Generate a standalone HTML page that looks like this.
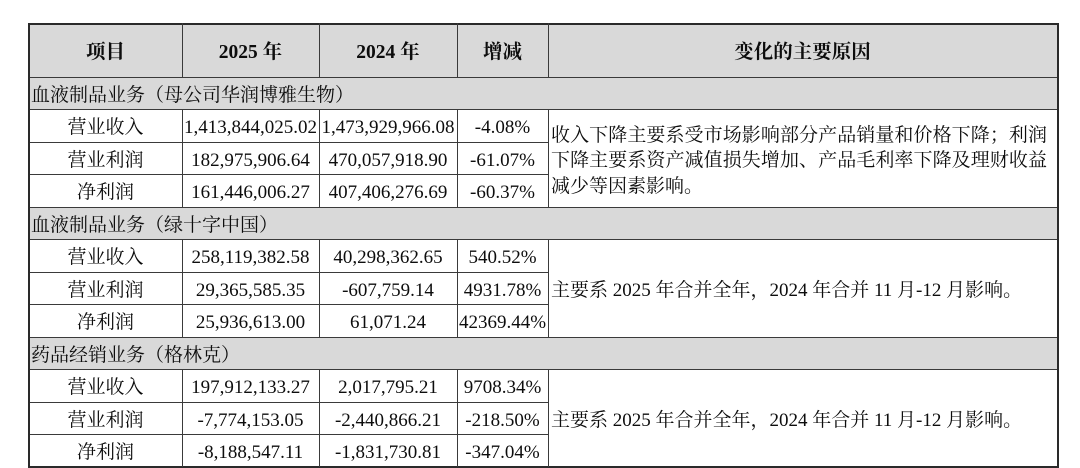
<!DOCTYPE html>
<html>
<head>
<meta charset="utf-8">
<style>
  html,body{margin:0;padding:0;background:#fff;}
  body{width:1080px;height:468px;position:relative;overflow:hidden;
       font-family:"Liberation Serif","Noto Serif CJK SC",serif;color:#0d0d0d;font-size:19px;}
  .bg{position:absolute;background:#d9d9d9;}
  .h{position:absolute;height:1px;background:#3a3a3a;}
  .v{position:absolute;width:1px;background:#3a3a3a;}
  .c{position:absolute;display:flex;align-items:center;justify-content:center;line-height:24px;white-space:nowrap;box-sizing:border-box;padding-top:4px;}
  .b{font-weight:bold;font-size:19.5px;}
  .s{position:absolute;left:31px;display:flex;align-items:center;line-height:24px;white-space:nowrap;box-sizing:border-box;padding-top:4px;}
  .r{position:absolute;left:551px;display:flex;align-items:center;box-sizing:border-box;padding-top:5px;}
  .r .blk{width:496px;line-height:25.5px;}
  .r .j{text-align:justify;text-align-last:justify;white-space:nowrap;}
</style>
</head>
<body>
<!-- gray backgrounds -->
<div class="bg" style="left:29px;top:23px;width:1028px;height:54px;"></div>
<div class="bg" style="left:29px;top:77px;width:1028px;height:32px;"></div>
<div class="bg" style="left:29px;top:207px;width:1028px;height:32px;"></div>
<div class="bg" style="left:29px;top:337px;width:1028px;height:32px;"></div>

<!-- full-width horizontal lines -->
<div class="h" style="left:29px;top:23px;width:1030px;height:2px;background:#2a2a2a;"></div>
<div class="h" style="left:29px;top:77px;width:1029px;"></div>
<div class="h" style="left:29px;top:109px;width:1029px;"></div>
<div class="h" style="left:29px;top:207px;width:1029px;"></div>
<div class="h" style="left:29px;top:239px;width:1029px;"></div>
<div class="h" style="left:29px;top:337px;width:1029px;"></div>
<div class="h" style="left:29px;top:369px;width:1029px;"></div>
<div class="h" style="left:29px;top:466px;width:1030px;height:2px;background:#2a2a2a;"></div>

<!-- partial horizontal lines -->
<div class="h" style="left:29px;top:142px;width:520px;"></div>
<div class="h" style="left:29px;top:174px;width:520px;"></div>
<div class="h" style="left:29px;top:272px;width:520px;"></div>
<div class="h" style="left:29px;top:304px;width:520px;"></div>
<div class="h" style="left:29px;top:402px;width:520px;"></div>
<div class="h" style="left:29px;top:434px;width:520px;"></div>

<!-- outer verticals -->
<div class="v" style="left:28px;top:23px;height:445px;width:2px;background:#2a2a2a;"></div>
<div class="v" style="left:1057px;top:23px;height:445px;width:2px;background:#2a2a2a;"></div>

<!-- inner verticals: header -->
<div class="v" style="left:182px;top:23px;height:54px;"></div>
<div class="v" style="left:319px;top:23px;height:54px;"></div>
<div class="v" style="left:457px;top:23px;height:54px;"></div>
<div class="v" style="left:548px;top:23px;height:54px;"></div>
<!-- group A -->
<div class="v" style="left:182px;top:109px;height:98px;"></div>
<div class="v" style="left:319px;top:109px;height:98px;"></div>
<div class="v" style="left:457px;top:109px;height:98px;"></div>
<div class="v" style="left:548px;top:109px;height:98px;"></div>
<!-- group B -->
<div class="v" style="left:182px;top:239px;height:98px;"></div>
<div class="v" style="left:319px;top:239px;height:98px;"></div>
<div class="v" style="left:457px;top:239px;height:98px;"></div>
<div class="v" style="left:548px;top:239px;height:98px;"></div>
<!-- group C -->
<div class="v" style="left:182px;top:369px;height:98px;"></div>
<div class="v" style="left:319px;top:369px;height:98px;"></div>
<div class="v" style="left:457px;top:369px;height:98px;"></div>
<div class="v" style="left:548px;top:369px;height:98px;"></div>

<!-- header text -->
<div class="c b" style="left:29px;top:24px;width:153px;height:53px;">项目</div>
<div class="c b" style="left:182px;top:24px;width:137px;height:53px;">2025 年</div>
<div class="c b" style="left:319px;top:24px;width:138px;height:53px;">2024 年</div>
<div class="c b" style="left:457px;top:24px;width:91px;height:53px;">增减</div>
<div class="c b" style="left:548px;top:24px;width:509px;height:53px;">变化的主要原因</div>

<!-- section titles -->
<div class="s" style="top:78px;height:31px;">血液制品业务（母公司华润博雅生物）</div>
<div class="s" style="top:208px;height:31px;">血液制品业务（绿十字中国）</div>
<div class="s" style="top:338px;height:31px;">药品经销业务（格林克）</div>

<!-- group A rows -->
<div class="c" style="left:29px;top:110px;width:153px;height:32px;">营业收入</div>
<div class="c" style="left:182px;top:110px;width:137px;height:32px;">1,413,844,025.02</div>
<div class="c" style="left:319px;top:110px;width:138px;height:32px;">1,473,929,966.08</div>
<div class="c" style="left:457px;top:110px;width:91px;height:32px;">-4.08%</div>

<div class="c" style="left:29px;top:143px;width:153px;height:31px;">营业利润</div>
<div class="c" style="left:182px;top:143px;width:137px;height:31px;">182,975,906.64</div>
<div class="c" style="left:319px;top:143px;width:138px;height:31px;">470,057,918.90</div>
<div class="c" style="left:457px;top:143px;width:91px;height:31px;">-61.07%</div>

<div class="c" style="left:29px;top:175px;width:153px;height:32px;">净利润</div>
<div class="c" style="left:182px;top:175px;width:137px;height:32px;">161,446,006.27</div>
<div class="c" style="left:319px;top:175px;width:138px;height:32px;">407,406,276.69</div>
<div class="c" style="left:457px;top:175px;width:91px;height:32px;">-60.37%</div>

<div class="r" style="top:110px;height:97px;">
  <div class="blk">
    <div class="j">收入下降主要系受市场影响部分产品销量和价格下降；利润</div>
    <div class="j">下降主要系资产减值损失增加、产品毛利率下降及理财收益</div>
    <div>减少等因素影响。</div>
  </div>
</div>

<!-- group B rows -->
<div class="c" style="left:29px;top:240px;width:153px;height:32px;">营业收入</div>
<div class="c" style="left:182px;top:240px;width:137px;height:32px;">258,119,382.58</div>
<div class="c" style="left:319px;top:240px;width:138px;height:32px;">40,298,362.65</div>
<div class="c" style="left:457px;top:240px;width:91px;height:32px;">540.52%</div>

<div class="c" style="left:29px;top:273px;width:153px;height:31px;">营业利润</div>
<div class="c" style="left:182px;top:273px;width:137px;height:31px;">29,365,585.35</div>
<div class="c" style="left:319px;top:273px;width:138px;height:31px;">-607,759.14</div>
<div class="c" style="left:457px;top:273px;width:91px;height:31px;">4931.78%</div>

<div class="c" style="left:29px;top:305px;width:153px;height:32px;">净利润</div>
<div class="c" style="left:182px;top:305px;width:137px;height:32px;">25,936,613.00</div>
<div class="c" style="left:319px;top:305px;width:138px;height:32px;">61,071.24</div>
<div class="c" style="left:457px;top:305px;width:91px;height:32px;">42369.44%</div>

<div class="r" style="top:240px;height:97px;">
  <div style="line-height:24px;white-space:nowrap;">主要系 2025 年合并全年，2024 年合并 11 月-12 月影响。</div>
</div>

<!-- group C rows -->
<div class="c" style="left:29px;top:370px;width:153px;height:32px;">营业收入</div>
<div class="c" style="left:182px;top:370px;width:137px;height:32px;">197,912,133.27</div>
<div class="c" style="left:319px;top:370px;width:138px;height:32px;">2,017,795.21</div>
<div class="c" style="left:457px;top:370px;width:91px;height:32px;">9708.34%</div>

<div class="c" style="left:29px;top:403px;width:153px;height:31px;">营业利润</div>
<div class="c" style="left:182px;top:403px;width:137px;height:31px;">-7,774,153.05</div>
<div class="c" style="left:319px;top:403px;width:138px;height:31px;">-2,440,866.21</div>
<div class="c" style="left:457px;top:403px;width:91px;height:31px;">-218.50%</div>

<div class="c" style="left:29px;top:435px;width:153px;height:31px;">净利润</div>
<div class="c" style="left:182px;top:435px;width:137px;height:31px;">-8,188,547.11</div>
<div class="c" style="left:319px;top:435px;width:138px;height:31px;">-1,831,730.81</div>
<div class="c" style="left:457px;top:435px;width:91px;height:31px;">-347.04%</div>

<div class="r" style="top:370px;height:96px;">
  <div style="line-height:24px;white-space:nowrap;">主要系 2025 年合并全年，2024 年合并 11 月-12 月影响。</div>
</div>
</body>
</html>
